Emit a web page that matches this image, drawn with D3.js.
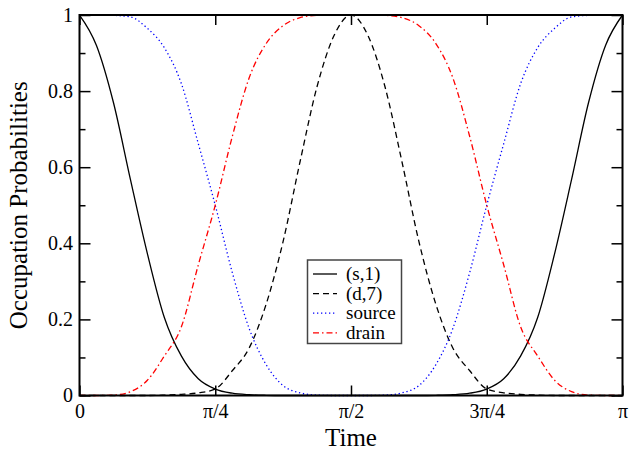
<!DOCTYPE html>
<html>
<head>
<meta charset="utf-8">
<script src="https://cdn.jsdelivr.net/npm/d3@7"></script>
<style>
  body { margin: 0; background: #fff; }
  svg text { font-family: "Liberation Serif", "Times New Roman", serif !important; }
</style>
</head>
<body>
<script>
// time grid: 0 .. pi in 32 steps
const times = d3.range(33).map((k) => (k * Math.PI) / 32);

const s1 = [1, 0.92, 0.77, 0.568, 0.373, 0.205, 0.104, 0.044, 0.017, 0.006, 0.002, 0.0005, 0, 0, 0, 0, 0,
    0, 0, 0, 0, 0.0005, 0.002, 0.006, 0.017, 0.044, 0.104, 0.205, 0.373, 0.568, 0.77, 0.92, 1];
const d7 = [0, 0, 0, 0, 0, 0.001, 0.003, 0.007, 0.017, 0.065, 0.125, 0.24, 0.405, 0.615, 0.812, 0.946, 1,
    0.946, 0.812, 0.615, 0.405, 0.24, 0.125, 0.065, 0.017, 0.007, 0.003, 0.001, 0, 0, 0, 0, 0];
const source = [1, 1, 0.999, 0.995, 0.965, 0.914, 0.82, 0.662, 0.5, 0.324, 0.176, 0.081, 0.026, 0.007, 0.001, 0, 0,
    0, 0.001, 0.007, 0.026, 0.081, 0.176, 0.324, 0.5, 0.662, 0.82, 0.914, 0.965, 0.995, 0.999, 1, 1];
const drain = [0, 0, 0.001, 0.01, 0.04, 0.104, 0.18, 0.343, 0.5, 0.68, 0.835, 0.925, 0.972, 0.993, 0.999, 1, 1,
    1, 0.999, 0.993, 0.972, 0.925, 0.835, 0.68, 0.5, 0.343, 0.18, 0.104, 0.04, 0.01, 0.001, 0, 0];

const seriesNames = ['(s,1)', '(d,7)', 'source', 'drain'];
const xTickValues = [0, Math.PI / 4, Math.PI / 2, (3 * Math.PI) / 4, Math.PI];
const xTickLabels = ['0', 'π/4', 'π/2', '3π/4', 'π'];
const yTickValues = [0, 0.2, 0.4, 0.6, 0.8, 1];
const yTickLabels = ['0', '0.2', '0.4', '0.6', '0.8', '1'];
const yMinorValues = [0.1, 0.3, 0.5, 0.7, 0.9];

const width = 629;
const height = 452;
const plotLeft = 79.5, plotRight = 622.5, plotTop = 15, plotBottom = 395.5;

const svg = d3.select('body')
    .append('svg')
    .attr('width', width)
    .attr('height', height);

const x = d3.scaleLinear().domain([0, Math.PI]).range([plotLeft, plotRight]);
const y = d3.scaleLinear().domain([0, 1]).range([plotBottom, plotTop]);

const styles = [
    { color: '#000', dash: null },
    { color: '#000', dash: '6,4' },
    { color: '#0000ff', dash: '1.3,2.7' },
    { color: '#ff0000', dash: '6,3,1.5,3' }
];

const line = d3.line()
    .x((d, i) => x(times[i]))
    .y((d) => y(d))
    .curve(d3.curveMonotoneX);

svg.append('g')
    .selectAll('path')
    .data([s1, d7, source, drain])
    .join('path')
    .attr('d', line)
    .attr('fill', 'none')
    .attr('stroke', (d, i) => styles[i].color)
    .attr('stroke-width', 1.3)
    .attr('stroke-dasharray', (d, i) => styles[i].dash);

// axes, ticks pointing inward
const styleAxis = (g) => {
    g.attr('font-family', null);
    g.select('.domain').remove();
    g.selectAll('line').attr('stroke', '#000').attr('stroke-width', 1.5);
    g.selectAll('text').attr('font-size', 20).attr('fill', '#000');
};

svg.append('g')
    .attr('transform', `translate(0,${plotBottom})`)
    .call(d3.axisBottom(x).tickValues(xTickValues).tickFormat((d, i) => xTickLabels[i])
        .tickSizeInner(-10).tickSizeOuter(0).tickPadding(8))
    .call(styleAxis);

svg.append('g')
    .attr('transform', `translate(0,${plotTop})`)
    .call(d3.axisTop(x).tickValues(xTickValues).tickFormat('')
        .tickSizeInner(-10).tickSizeOuter(0))
    .call(styleAxis);

svg.append('g')
    .attr('transform', `translate(${plotLeft},0)`)
    .call(d3.axisLeft(y).tickValues(yTickValues).tickFormat((d, i) => yTickLabels[i])
        .tickSizeInner(-11).tickSizeOuter(0).tickPadding(6.5))
    .call(styleAxis);

svg.append('g')
    .attr('transform', `translate(${plotLeft},0)`)
    .call(d3.axisLeft(y).tickValues(yMinorValues).tickFormat('')
        .tickSizeInner(-6).tickSizeOuter(0))
    .call(styleAxis);

svg.append('g')
    .attr('transform', `translate(${plotRight},0)`)
    .call(d3.axisRight(y).tickValues(yTickValues).tickFormat('')
        .tickSizeInner(-11).tickSizeOuter(0))
    .call(styleAxis);

svg.append('g')
    .attr('transform', `translate(${plotRight},0)`)
    .call(d3.axisRight(y).tickValues(yMinorValues).tickFormat('')
        .tickSizeInner(-6).tickSizeOuter(0))
    .call(styleAxis);

svg.append('rect')
    .attr('x', plotLeft)
    .attr('y', plotTop)
    .attr('width', plotRight - plotLeft)
    .attr('height', plotBottom - plotTop)
    .attr('fill', 'none')
    .attr('stroke', '#000')
    .attr('stroke-width', 2);

// axis titles
svg.append('text')
    .attr('x', (plotLeft + plotRight) / 2)
    .attr('y', 446)
    .attr('text-anchor', 'middle')
    .attr('font-size', 25)
    .text('Time');

svg.append('text')
    .attr('transform', `translate(26.5,${(plotTop + plotBottom) / 2}) rotate(-90)`)
    .attr('text-anchor', 'middle')
    .attr('font-size', 25)
    .text('Occupation Probabilities');

// legend
const legend = svg.append('g');

legend.append('rect')
    .attr('x', 307.5)
    .attr('y', 260)
    .attr('width', 94)
    .attr('height', 83.5)
    .attr('fill', '#fff')
    .attr('stroke', '#444')
    .attr('stroke-width', 1.5);

const rows = legend.selectAll('g.row')
    .data(seriesNames)
    .join('g')
    .attr('class', 'row')
    .attr('transform', (d, i) => `translate(0,${280 + i * 19.6})`);

rows.append('line')
    .attr('x1', 313)
    .attr('x2', 337)
    .attr('y1', -6)
    .attr('y2', -6)
    .attr('stroke', (d, i) => styles[i].color)
    .attr('stroke-width', 1.3)
    .attr('stroke-dasharray', (d, i) => styles[i].dash);

rows.append('text')
    .attr('x', 346)
    .attr('font-size', 19)
    .text((d) => d);
</script>
</body>
</html>
